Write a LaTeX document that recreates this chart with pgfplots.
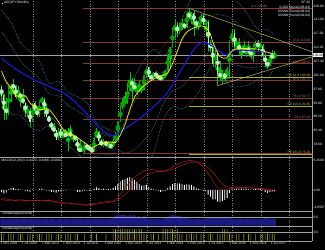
\documentclass[border=0pt]{standalone}
\usepackage{pgfplots}
\usepackage{pgfplotstable}
\pgfplotsset{compat=1.18}
\usepackage{fontspec}
\setmainfont{Liberation Sans}
\definecolor{cgreen}{RGB}{0,200,0}
\definecolor{cbull}{RGB}{0,165,0}
\definecolor{cbear}{RGB}{185,240,185}
\definecolor{fibred}{RGB}{135,55,55}
\definecolor{fibyel}{RGB}{175,175,40}
\definecolor{triyel}{RGB}{200,200,70}
\definecolor{bandc}{RGB}{70,125,155}
\definecolor{gridc}{RGB}{140,140,140}
\definecolor{mablue}{RGB}{25,25,215}
\definecolor{axc}{RGB}{160,160,160}
\definecolor{macdr}{RGB}{150,20,20}
\definecolor{sigr}{RGB}{225,40,40}
\definecolor{tablue}{RGB}{25,25,130}
\definecolor{tayel}{RGB}{150,150,30}
\newcommand{\tf}{\fontsize{3.3}{3.6}\selectfont}

\pgfplotstableread{
m h l
0 99.2 93.5
1 96.0 87.1
2 94.6 87.1
3 98.8 89.0
4 99.7 93.5
5 101.4 96.0
6 99.3 94.5
7 98.9 94.5
8 96.6 91.7
9 97.8 92.5
10 93.3 88.2
11 92.3 88.0
12 91.3 84.8
13 93.1 86.3
14 93.8 89.4
15 92.1 88.1
16 93.6 88.1
17 94.9 92.8
18 94.7 88.0
19 92.5 88.4
20 88.6 86.3
21 86.4 83.6
22 85.9 82.9
23 83.6 80.2
24 84.4 80.2
25 84.5 80.9
26 83.7 81.1
27 84.0 81.6
28 84.2 76.3
29 85.5 81.2
30 82.2 79.6
31 81.7 79.7
32 81.0 76.3
33 80.2 75.9
34 77.9 75.9
35 79.5 75.6
36 78.3 76.6
37 78.3 76.9
38 77.5 76.0
39 81.2 76.1
40 84.2 80.8
41 83.3 79.8
42 80.5 78.0
43 80.6 77.6
44 80.0 77.9
45 79.7 78.0
46 78.9 77.1
47 80.4 77.8
48 82.8 79.0
49 86.6 81.7
50 91.7 86.5
51 94.5 90.9
52 96.7 92.6
53 99.9 92.6
54 103.7 97.0
55 101.5 93.8
56 101.5 97.6
57 99.1 95.8
58 100.6 96.9
59 99.0 96.6
60 102.6 97.6
61 105.4 101.6
62 105.4 101.8
63 102.8 100.8
64 103.8 101.2
65 104.1 101.4
66 102.8 100.8
67 102.8 101.1
68 103.1 101.1
69 104.5 101.5
70 110.1 104.0
71 112.5 105.2
72 118.9 112.2
73 121.9 115.6
74 121.0 115.9
75 120.5 116.9
76 122.0 118.3
77 120.8 118.5
78 124.5 118.9
79 125.86 122.0
80 124.6 120.4
81 125.3 116.2
82 121.7 118.6
83 121.5 118.1
84 123.8 120.6
85 123.7 119.9
86 121.7 116.0
87 121.7 111.0
88 114.9 110.7
89 112.9 105.6
90 111.4 105.5
91 110.9 99.0
92 107.5 100.7
93 104.3 99.5
94 104.3 100.1
95 105.5 101.2
96 114.8 101.2
97 118.66 112.9
98 118.6 111.6
99 115.6 111.6
100 115.5 110.1
101 112.2 108.1
102 114.4 110.2
103 112.5 108.8
104 114.5 110.0
105 111.0 108.3
106 113.3 107.3
107 114.4 111.7
108 114.7 110.8
109 113.7 111.9
110 113.4 108.3
111 110.5 105.6
112 107.3 104.6
113 109.5 105.7
114 111.4 108.1
115 110.9 108.1
}\wicks

\pgfplotstableread{
m mid half
3 93.75 3.97
4 98.25 0.77
7 95.85 0.67
11 89.9 0.22
13 89.7 3.42
16 91.2 2.42
17 93.75 0.37
24 82.05 1.77
26 81.55 0.57
28 82.45 0.77
30 81.35 0.27
34 76.85 0.27
35 77.6 0.72
39 78.55 2.47
40 81.85 1.07
43 79.05 0.87
45 78.25 0.27
47 78.85 1.07
48 81.15 1.47
49 84.6 2.22
50 89.2 2.62
51 92.15 0.57
52 93.4 0.92
53 95.8 1.72
54 98.95 1.67
57 98.05 0.27
58 98.25 0.17
59 98.35 0.17
60 100.4 2.12
61 103.85 1.57
64 102.5 0.82
68 102.05 0.87
69 103.45 0.77
70 106.9 2.92
71 111.0 1.42
72 115.45 3.27
73 119.2 0.72
75 118.55 1.17
76 119.85 0.37
78 121.75 2.47
80 123.2 0.82
83 120.25 0.47
84 121.85 1.37
86 120.6 0.52
90 108.6 2.22
93 102.75 0.77
95 103.05 1.87
96 109.65 4.97
97 115.75 1.37
99 112.8 0.12
101 111.45 0.17
103 111.6 0.92
106 111.25 1.37
107 113.05 0.67
109 112.6 0.22
113 107.8 1.62
115 109.2 0.52
}\bull

\pgfplotstableread{
m mid half
0 96.95 1.62
1 93.05 2.57
2 90.25 0.47
5 98.75 0.27
6 96.95 1.77
8 95.55 0.97
9 93.85 0.97
10 91.4 1.72
12 88.2 1.92
14 91.65 1.47
15 89.6 0.82
18 92.6 1.52
19 89.8 1.52
20 87.4 1.12
21 85.3 1.22
22 83.85 0.47
23 81.95 1.67
25 82.4 1.42
27 81.9 0.22
29 82.15 1.07
31 81.0 0.62
32 78.65 1.97
33 76.75 0.17
36 77.9 0.42
37 77.25 0.47
38 76.55 0.47
41 81.4 1.52
42 79.15 0.97
44 78.95 0.97
46 78.15 0.37
55 99.8 0.82
56 98.5 0.72
62 103.65 1.77
63 101.9 0.22
65 102.75 0.57
66 102.05 0.37
67 101.55 0.37
74 118.65 1.27
77 119.75 0.47
79 123.3 0.92
81 122.55 1.47
82 120.55 0.77
85 121.65 1.57
87 116.85 4.27
88 112.65 0.17
89 109.55 3.17
91 106.95 3.87
92 102.65 0.67
94 102.35 1.17
98 114.9 2.22
100 112.1 0.82
102 111.15 0.47
104 111.35 1.17
105 110.15 0.27
108 113.05 0.67
110 110.95 1.87
111 107.95 1.37
112 106.5 0.32
114 109.05 0.37
}\bear

\pgfplotstableread{
m yel
0 104.0
2 100.4
4 98.2
6 95.6
8 95.25
10 95.5
12 93.0
14 91.7
16 90.6
18 90.9
20 90.7
22 88.8
24 86.5
26 83.7
28 82.5
30 81.85
32 81.0
34 79.8
36 78.7
38 77.5
40 78.3
42 78.9
44 79.1
46 79.5
48 79.35
50 81.9
52 85.5
54 90.7
56 95.0
58 97.3
60 99.0
62 100.2
64 101.2
66 102.15
68 102.6
70 103.4
72 106.6
74 110.8
76 115.2
78 117.5
80 118.6
82 119.3
84 119.7
85.5 119.4
87.8 117.1
89.2 113.6
92 109.0
94.8 108.6
96.2 110.2
97.6 111.3
100 111.8
104 111.8
108 111.6
111 110.8
113 110.3
115 109.9
}\yellowma

\pgfplotstableread{
m blu
0 108.5
3.6 106.1
7.8 103.8
14 100.9
20.4 98.6
27.4 95.8
34.4 90.6
41.5 84.2
45.7 81.9
47.8 81.9
49.9 83.1
55.5 86.0
62.5 90.6
69.6 96.3
76.5 105.6
80.8 111.3
83.6 113.6
85.7 113.9
89.2 112.5
92 110.7
94.8 109.6
96.9 110.7
99 111.3
104.6 111.1
111.7 110.5
114.4 110.2
}\bluema

\pgfplotstableread{
m u2 u1 l1 l2
0 125.1 117.6 102.6 95.1
4 120.9 113.0 97.2 89.3
8 113.9 107.6 95.0 88.7
12 110.8 104.3 91.3 84.8
16 107.4 101.4 89.4 83.4
20 99.9 96.2 88.8 85.1
24 100.5 95.5 85.5 80.5
28 96.8 92.2 83.0 78.4
32 95.1 90.2 80.4 75.5
36 93.0 88.0 78.0 73.0
40 86.4 83.5 77.7 74.8
44 84.3 82.0 77.4 75.1
48 83.4 81.3 77.1 75.0
52 91.9 86.5 75.7 70.3
56 101.8 93.5 76.9 68.6
60 107.7 98.5 80.1 70.9
64 111.6 102.6 84.6 75.6
68 109.3 103.7 92.5 86.9
72 113.3 107.9 97.1 91.7
76 122.1 114.3 98.7 90.9
80 129.0 120.1 102.3 93.4
84 131.3 123.0 106.4 98.1
88 129.4 123.4 111.4 105.4
92 129.9 123.5 110.7 104.3
96 130.5 122.6 106.8 98.9
100 127.5 120.3 105.9 98.7
104 123.2 117.2 105.2 99.2
108 118.4 114.1 105.5 101.2
112 118.3 114.1 105.7 101.5
115 116.5 113.7 108.1 105.3
}\bands

\pgfplotstableread{
m main sig
0 -2.6 -2.2
4 -3.0 -2.7
8 -2.7 -2.8
12 -3.0 -2.9
16 -2.8 -2.9
20 -2.9 -2.9
24 -3.6 -3.3
28 -3.8 -3.6
32 -3.9 -3.8
36 -4.2 -4.0
40 -3.6 -3.9
44 -3.2 -3.5
48 -2.7 -3.0
52 0.5 -1.3
56 3.5 1.4
60 5.2 3.6
64 5.6 4.9
68 5.0 5.2
72 6.3 5.7
76 7.6 6.8
80 8.1 7.6
84 6.9 7.5
88 3.6 5.6
91 0.6 3.2
94 0.2 1.2
98 0.6 0.6
102 0.7 0.6
106 0.5 0.6
110 0.3 0.4
113 -0.3 0.1
115 -0.4 -0.1
}\macd

\pgfplotstableread{
m v
0 -0.6
1 -0.9
2 -0.7
3 0.2
4 0.5
5 0.6
6 0.3
7 0.3
8 0.1
9 0.05
10 -0.3
11 -0.3
12 -0.5
13 0.1
14 0.05
15 -0.1
16 0.3
17 0.4
18 0.2
19 -0.1
20 -0.3
21 -0.5
22 -0.5
23 -0.7
24 -0.4
25 -0.4
26 -0.2
27 -0.1
28 0.1
29 0.05
30 0.05
31 -0.1
32 -0.5
33 -0.5
34 -0.4
35 -0.2
36 -0.2
37 -0.2
38 -0.2
39 0.4
40 0.7
41 0.5
42 0.3
43 0.4
44 0.3
45 0.3
46 0.3
47 0.6
48 1.0
49 1.6
50 2.4
51 2.8
52 3.0
53 3.3
54 3.6
55 3.2
56 2.7
57 2.2
58 1.7
59 1.2
60 1.3
61 1.4
62 0.8
63 0.4
64 0.2
65 -0.1
66 -0.3
67 -0.5
68 -0.4
69 -0.2
70 0.6
71 1.0
72 1.6
73 1.9
74 1.8
75 1.8
76 1.7
77 1.4
78 1.7
79 1.5
80 1.4
81 1.0
82 0.6
83 0.3
84 0.2
85 -0.2
86 -0.4
87 -1.3
88 -1.8
89 -2.6
90 -2.6
91 -3.2
92 -3.3
93 -3.0
94 -2.8
95 -2.2
96 -0.8
97 0.2
98 0.3
99 0.4
100 0.4
101 0.4
102 0.3
103 0.4
104 0.2
105 0.1
106 0.3
107 0.4
108 0.3
109 0.3
110 -0.1
111 -0.6
112 -0.8
113 -0.5
114 -0.4
115 -0.3
}\hist

\pgfplotstableread{
m a b
0 0.5 0.5
1 0.5 0.5
2 0.45 0.0
3 0.5 0.5
4 0.5 0.5
5 0.45 0.45
6 0.5 0.0
7 0.5 0.5
8 0.45 0.45
9 0.5 0.5
10 0.5 0.0
11 0.45 0.45
12 0.5 0.5
13 0.5 0.45
14 0.45 0.0
15 0.5 0.5
16 0.5 0.45
17 0.45 0.5
18 0.5 0.0
19 0.5 0.45
20 0.45 0.5
21 0.5 0.45
22 0.5 0.0
23 0.45 0.5
24 0.5 0.45
25 0.5 0.5
26 0.45 0.0
27 0.5 0.45
28 0.5 0.5
29 0.45 0.45
30 0.5 0.0
31 0.5 0.5
32 0.45 0.45
33 0.5 0.0
34 0.5 0.0
35 0.45 0.45
36 0.5 0.0
37 0.5 0.0
38 0.45 0.5
39 0.5 0.0
40 0.5 0.45
41 0.45 0.0
42 0.5 0.0
43 0.5 0.0
44 0.45 0.45
45 0.5 0.0
46 0.5 0.0
47 0.6 0.8
48 0.7 0.8
49 0.75 0.8
50 0.75 0.8
51 0.75 0.8
52 0.75 0.8
53 0.7 0.8
54 0.75 0.8
55 0.7 0.8
56 0.75 0.8
57 0.6 0.8
58 0.7 0.8
59 0.6 0.8
60 0.7 0.45
61 0.55 0.45
62 0.5 0.0
63 0.5 0.45
64 0.45 0.45
65 0.5 0.0
66 0.5 0.45
67 0.45 0.0
68 0.5 0.8
69 0.55 0.8
70 0.6 0.8
71 0.7 0.8
72 0.75 0.8
73 0.75 0.8
74 0.7 0.8
75 0.7 0.45
76 0.6 0.45
77 0.55 0.0
78 0.55 0.45
79 0.5 0.45
80 0.5 0.5
81 0.45 0.45
82 0.5 0.45
83 0.5 0.0
84 0.45 0.45
85 0.5 0.5
86 0.5 0.0
87 0.55 0.45
88 0.6 0.5
89 0.6 0.45
90 0.55 0.0
91 0.6 0.45
92 0.55 0.45
93 0.6 0.8
94 0.55 0.8
95 0.6 0.8
96 0.55 0.5
97 0.5 0.45
98 0.5 0.0
99 0.45 0.45
100 0.5 0.45
101 0.5 0.0
102 0.45 0.45
103 0.5 0.0
104 0.5 0.45
105 0.45 0.45
106 0.5 0.0
107 0.5 0.45
108 0.45 0.0
109 0.5 0.45
110 0.5 0.5
111 0.55 0.5
112 0.55 0.5
113 0.5 0.45
114 0.5 0.5
115 0.5 0.45
}\ta

\pgfplotsset{panel/.style={scale only axis, width=312pt, anchor=south west,
  xmin=-0.632, xmax=130.74, hide axis, clip mode=individual},
  gridl/.style={gridc, line width=0.35pt, dash pattern=on 1pt off 1.5pt, forget plot},
  bandl/.style={bandc, line width=0.5pt, dash pattern=on 0.7pt off 0.8pt, smooth}}
\tikzset{
  rlab/.style={anchor=west, text=white, inner sep=0.3pt, font=\tf},
  flab/.style={anchor=south east, text=fibred!70!white, inner sep=0.2pt, font=\tf},
  ylab/.style={anchor=south east, text=fibyel!85!white, inner sep=0.2pt, font=\tf},
  dlab/.style={anchor=north west, text=white!80!gray, inner sep=0.3pt, font=\tf}}
\newcommand{\vgrid}[2]{\pgfplotsinvokeforeach{13.3,25.3,37.3,49.3,61.3,73.3,85.3,97.3,109.3,121.3}{\addplot[gridl] coordinates {(##1,#1) (##1,#2)};}}

\begin{document}
\begin{tikzpicture}[x=1pt,y=1pt]
\fill[black] (0,0) rectangle (325,250);

% ---------------- main price panel
\begin{axis}[panel, at={(0pt,93pt)}, height=157pt, ymin=74.3, ymax=128.63]
\vgrid{74.3}{128.63}
\addplot[bandl] table[x=m,y=u2]\bands;
\addplot[bandl] table[x=m,y=u1]\bands;
\addplot[bandl] table[x=m,y=l1]\bands;
\addplot[bandl] table[x=m,y=l2]\bands;
\addplot[fibred, line width=0.45pt] coordinates {(34.5,125.86) (131,125.86)};
\addplot[fibred, line width=0.45pt] coordinates {(34.5,113.99) (131,113.99)};
\addplot[fibred, line width=0.45pt] coordinates {(34.5,106.65) (131,106.65)};
\addplot[fibred, line width=0.45pt] coordinates {(34.5,100.71) (131,100.71)};
\addplot[fibred, line width=0.45pt] coordinates {(34.5,94.77) (131,94.77)};
\addplot[fibred, line width=0.45pt] coordinates {(34.5,87.43) (131,87.43)};
\addplot[fibred, line width=0.45pt] coordinates {(34.5,75.56) (131,75.56)};
\addplot[fibyel, line width=0.5pt] coordinates {(79,102.06) (131,102.06)};
\addplot[fibyel, line width=0.5pt] coordinates {(79,91.80) (131,91.80)};
\addplot[fibyel, line width=0.6pt] coordinates {(79,75.20) (131,75.20)};
\addplot[fibred, line width=0.4pt, dash pattern=on 0.6pt off 0.8pt] coordinates {(38.5,75.6) (79,125.86) (91,99.0)};
\addplot[triyel, line width=0.45pt] coordinates {(78.6,125.86) (131,110.64)};
\addplot[triyel, line width=0.45pt] coordinates {(91,99.0) (131,109.0)};
\addplot[axc, line width=0.4pt] coordinates {(-0.6,109.6) (131,109.6)};
\addplot[cgreen, only marks, mark=none, error bars/.cd, y dir=both, y explicit, error mark=none,
  error bar style={cgreen, line width=0.35pt}]
  table[x=m, y expr={(\thisrow{h}+\thisrow{l})/2}, y error expr={(\thisrow{h}-\thisrow{l})/2}]\wicks;
\addplot[cbull, only marks, mark=none, error bars/.cd, y dir=both, y explicit, error mark=none,
  error bar style={cbull, line width=1.3pt}]
  table[x=m, y=mid, y error=half]\bull;
\addplot[cbear, only marks, mark=none, error bars/.cd, y dir=both, y explicit, error mark=none,
  error bar style={cbear, line width=1.2pt}]
  table[x=m, y=mid, y error=half]\bear;
\addplot[mablue, line width=1.1pt, smooth] table[x=m,y=blu]\bluema;
\addplot[yellow, line width=0.7pt, smooth] table[x=m,y=yel]\yellowma;
\node[anchor=north west, text=white, inner sep=0.5pt, font=\tf] at (axis cs:-0.2,128.4) {\rule{1.2pt}{1.2pt}\ USDJPY,Monthly};
\node[anchor=north east, text=white, inner sep=0.5pt, font=\tf, align=right] at (axis cs:130.3,128.3) {SF 82\\[0.6pt]0.200 Signal(108.84)\\[0.6pt]DOWN Trend(108.04)\\[0.6pt]DOWN Trend(109.84)};
\node[flab] at (axis cs:112,125.86) {0.0 125.86};
\node[flab] at (axis cs:130.2,113.99) {23.6 113.99};
\node[flab] at (axis cs:130.2,106.65) {38.2 106.65};
\node[flab] at (axis cs:130.2,100.71) {50.0 100.71};
\node[flab] at (axis cs:130.2,94.77) {61.8 94.77};
\node[flab] at (axis cs:130.2,87.43) {76.4 87.43};
\node[ylab] at (axis cs:130.2,102.06) {FE 61.8 102.06};
\node[ylab] at (axis cs:130.2,91.80) {FE 100.0 91.80};
\node[ylab] at (axis cs:130.2,75.20) {FE 161.8 75.20};
\node[rlab] at (axis cs:131.2,126.60) {126.60};
\node[rlab] at (axis cs:131.2,121.80) {121.80};
\node[rlab] at (axis cs:131.2,117.00) {117.00};
\node[rlab] at (axis cs:131.2,112.20) {112.20};
\node[rlab] at (axis cs:131.2,107.40) {107.40};
\node[rlab] at (axis cs:131.2,102.60) {102.60};
\node[rlab] at (axis cs:131.2,97.80) {97.80};
\node[rlab] at (axis cs:131.2,93.00) {93.00};
\node[rlab] at (axis cs:131.2,88.20) {88.20};
\node[rlab] at (axis cs:131.2,83.40) {83.40};
\node[rlab] at (axis cs:131.2,78.60) {78.60};
\node[anchor=west, fill=white, text=black, inner sep=0.4pt, font=\tf] at (axis cs:130.9,109.6) {109.60};
\end{axis}

% ---------------- MACD panel
\begin{axis}[panel, at={(0pt,39pt)}, height=53pt, ymin=-5.77, ymax=8.79]
\vgrid{-5.77}{8.79}
\addplot[ybar, bar width=0.9pt, fill=white, draw=none] table[x=m,y=v]\hist;
\addplot[macdr, line width=0.6pt, smooth] table[x=m,y=main]\macd;
\addplot[sigr, line width=0.5pt, dash pattern=on 0.8pt off 0.6pt, smooth] table[x=m,y=sig]\macd;
\node[anchor=north west, text=white, inner sep=0.5pt, font=\tf] at (axis cs:-0.2,8.6) {MACD(12,26,9) -0.4470 -0.4186 -0.0284};
\node[rlab] at (axis cs:131.2,8.25) {8.2500};
\node[rlab] at (axis cs:131.2,0) {0.00};
\node[rlab] at (axis cs:131.2,-4.66) {-4.6567};
\end{axis}

% ---------------- TrendAnalyzer 1
\begin{axis}[panel, at={(0pt,24.3pt)}, height=14pt, ymin=0, ymax=1]
\vgrid{0}{1}
\addplot[ybar, bar width=2.4pt, fill=tablue, draw=none] table[x=m,y=a]\ta;
\addplot[axc, line width=0.4pt] coordinates {(-0.6,0.61) (131,0.61)};
\node[anchor=north west, text=white, inner sep=0.5pt, font=\tf] at (axis cs:-0.2,1) {TrendAnalyzer(3256)};
\node[rlab] at (axis cs:131.2,0.61) {0.0};
\end{axis}

% ---------------- TrendAnalyzer 2
\begin{axis}[panel, at={(0pt,9.3pt)}, height=14.5pt, ymin=0, ymax=1]
\vgrid{0}{1}
\addplot[ybar, bar width=0.6pt, fill=tayel, draw=none] table[x=m,y=b]\ta;
\addplot[axc, line width=0.4pt] coordinates {(-0.6,0.59) (131,0.59)};
\node[anchor=north west, text=white, inner sep=0.5pt, font=\tf] at (axis cs:-0.2,1) {TrendAnalyzer(3256)};
\node[rlab] at (axis cs:131.2,0.59) {0.0};
\node[dlab] at (axis cs:-0.6,-0.08) {1 Nov 2008};
\node[dlab] at (axis cs:8.2,-0.08) {1 Jul 2009};
\node[dlab] at (axis cs:16.9,-0.08) {1 Mar 2010};
\node[dlab] at (axis cs:25.7,-0.08) {1 Nov 2010};
\node[dlab] at (axis cs:34.4,-0.08) {1 Jul 2011};
\node[dlab] at (axis cs:43.2,-0.08) {1 Mar 2012};
\node[dlab] at (axis cs:51.9,-0.08) {1 Nov 2012};
\node[dlab] at (axis cs:60.7,-0.08) {1 Jul 2013};
\node[dlab] at (axis cs:69.4,-0.08) {1 Mar 2014};
\node[dlab] at (axis cs:78.2,-0.08) {1 Nov 2014};
\node[dlab] at (axis cs:86.9,-0.08) {1 Jul 2015};
\node[dlab] at (axis cs:95.7,-0.08) {1 Mar 2016};
\node[dlab] at (axis cs:104.4,-0.08) {1 Nov 2016};
\node[dlab] at (axis cs:113.2,-0.08) {1 Jul 2017};
\end{axis}

\draw[axc, line width=0.5pt] (0,92.6) -- (312,92.6);
\draw[axc, line width=0.5pt] (0,38.6) -- (312,38.6);
\draw[axc, line width=0.5pt] (0,24) -- (312,24);
\draw[axc, line width=0.5pt] (0,9) -- (312,9);
\draw[axc, line width=0.5pt] (312,9) -- (312,250);
\pgfresetboundingbox
\path (0,0) rectangle (325,250);
\end{tikzpicture}
\end{document}
